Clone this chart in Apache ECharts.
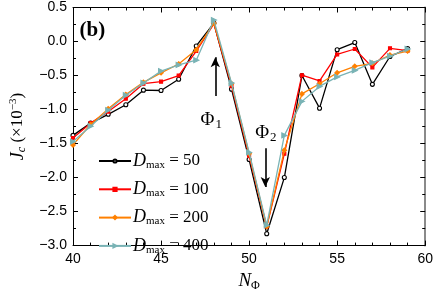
<!DOCTYPE html>
<html><head><meta charset="utf-8">
<script src="https://cdn.jsdelivr.net/npm/echarts@6/dist/echarts.min.js"></script>
<style>html,body{margin:0;padding:0;background:#fff}#c{width:436px;height:297px}</style>
</head><body><div id="c"></div>
<script>
const nPhi = [40,41,42,43,44,45,46,47,48,49,50,51,52,53,54,55,56,57,58,59];
const d50  = [-1.38,-1.20,-1.07,-0.93,-0.715,-0.72,-0.555,-0.065,0.27,-0.70,-1.735,-2.825,-2.00,-0.50,-0.98,-0.12,-0.015,-0.63,-0.22,-0.105];
const d100 = [-1.42,-1.20,-1.03,-0.84,-0.62,-0.59,-0.50,-0.14,0.26,-0.65,-1.68,-2.72,-1.65,-0.495,-0.58,-0.19,-0.11,-0.38,-0.10,-0.135];
const d200 = [-1.52,-1.22,-0.99,-0.78,-0.60,-0.46,-0.33,-0.12,0.27,-0.62,-1.65,-2.72,-1.60,-0.77,-0.62,-0.46,-0.365,-0.32,-0.20,-0.14];
const d400 = [-1.47,-1.245,-1.01,-0.79,-0.61,-0.435,-0.345,-0.275,0.315,-0.61,-1.63,-2.70,-1.38,-0.88,-0.66,-0.52,-0.425,-0.31,-0.215,-0.11];
const dmaxLabels = ['50','100','200','400'];
const xTicks = [40,45,50,55,60];
const yTicks = [0.5,0.0,-0.5,-1.0,-1.5,-2.0,-2.5,-3.0];

const serif = '"Liberation Serif","DejaVu Serif",serif';
const sans = '"Liberation Sans",Arial,sans-serif';
const colors = ['#000000','#ff0000','#ff8000','#79b3b5'];
const symbols = ['circle','rect','diamond','triangle'];
const symSizes = [4,3,4.5,5];
const symRot = [0,0,0,-90];
const datasets = [d50,d100,d200,d400];

const series = datasets.map((arr,i)=>({
  name: 'D' + dmaxLabels[i],
  type: 'line',
  data: nPhi.map((x,j)=>[x,arr[j]]),
  symbol: symbols[i],
  symbolSize: symSizes[i],
  symbolRotate: symRot[i],
  showAllSymbol: true,
  z: 2+i,
  lineStyle: {color: colors[i], width: 1.3},
  itemStyle: {color: i===0 ? '#ffffff' : colors[i], borderColor: colors[i], borderWidth: 1.1},
  emphasis: {disabled: true},
  animation: false
}));

series[0].markLine = {
  silent: true, animation: false,
  symbol: ['none','arrow'], symbolSize: [7,10],
  label: {show: false},
  lineStyle: {color: '#000', width: 1.6, type: 'solid'},
  data: [
    [{coord:[48.08,-0.80]},{coord:[48.08,-0.23]}],
    [{coord:[50.92,-1.57]},{coord:[50.92,-2.14]}]
  ]
};

const axisBase = {
  type: 'value', min: 40, max: 60, interval: 5,
  axisLine: {show: true, onZero: false, lineStyle: {color: '#000', width: 1}},
  axisTick: {show: true, inside: true, length: 5, lineStyle: {color: '#000'}},
  minorTick: {show: true, splitNumber: 5, length: 3, lineStyle: {color: '#000'}},
  splitLine: {show: false}
};
const yBase = {
  type: 'value', min: -3, max: 0.5, interval: 0.5,
  axisLine: {show: true, onZero: false, lineStyle: {color: '#000', width: 1}},
  axisTick: {show: true, inside: true, length: 5, lineStyle: {color: '#000'}},
  minorTick: {show: true, splitNumber: 2, length: 3, lineStyle: {color: '#000'}},
  splitLine: {show: false}
};

const legendRich = {
  d: {fontFamily: serif, fontStyle: 'italic', fontSize: 18, color: '#000'},
  m: {fontFamily: serif, fontSize: 11, color: '#000', padding: [8,0,0,0]},
  e: {fontFamily: serif, fontSize: 17, color: '#000'}
};
const legends = series.map((s,i)=>({
  orient: 'vertical', left: 93, top: 147 + 28.3*i,
  itemWidth: 32, itemHeight: 4,
  data: [s.name],
  formatter: name => '{d|D}{m|max}{e| = ' + name.slice(1) + '}',
  textStyle: {padding: [0,0,0,-3], rich: legendRich}
}));

const chart = echarts.init(document.getElementById('c'), null, {renderer: 'canvas'});
const option = {
  animation: false,
  backgroundColor: '#fff',
  grid: {left: 66, right: 9, top: 7.5, bottom: 40},
  xAxis: [
    Object.assign({}, axisBase, {
      position: 'bottom',
      axisLabel: {show: true, color: '#000', fontFamily: sans, fontSize: 14, margin: 7,
        formatter: v => xTicks.includes(v) ? String(v) : ''},
      name: '{n|N}{s|Φ}', nameLocation: 'middle', nameGap: 23,
      nameTextStyle: {rich: {
        n: {fontFamily: serif, fontStyle: 'italic', fontSize: 19, color: '#000'},
        s: {fontFamily: serif, fontSize: 12, color: '#000', padding: [10,0,0,0]}
      }}
    }),
    Object.assign({}, axisBase, {position: 'top', axisLabel: {show: false}})
  ],
  yAxis: [
    Object.assign({}, yBase, {
      position: 'left',
      axisLabel: {show: true, color: '#000', fontFamily: sans, fontSize: 14, margin: 6,
        formatter: v => { const t = yTicks.find(q => Math.abs(q - v) < 1e-9); return t === undefined ? '' : t.toFixed(1).replace('-', '−'); }},
      name: '{j|J}{c|c}{t| (×10}{e|−3}{t|)}', nameLocation: 'middle', nameGap: 45, nameRotate: 90,
      nameTextStyle: {rich: {
        j: {fontFamily: serif, fontStyle: 'italic', fontSize: 18, color: '#000'},
        c: {fontFamily: serif, fontStyle: 'italic', fontSize: 12, color: '#000', padding: [8,0,0,0]},
        t: {fontFamily: serif, fontSize: 17, color: '#000'},
        e: {fontFamily: serif, fontSize: 11, color: '#000', padding: [0,0,9,0]}
      }}
    }),
    Object.assign({}, yBase, {position: 'right', axisLabel: {show: false},
      axisLine: {show: true, onZero: false, lineStyle: {color: '#8a8a8a', width: 2}}})
  ],
  legend: legends,
  series: series
};
chart.setOption(option);

const p1 = chart.convertToPixel({xAxisIndex: 0, yAxisIndex: 0}, [47.85, -1.16]);
const p2 = chart.convertToPixel({xAxisIndex: 0, yAxisIndex: 0}, [50.95, -1.34]);
const pb = chart.convertToPixel({xAxisIndex: 0, yAxisIndex: 0}, [40.37, 0.16]);
function phi(p, sub) {
  return {
    type: 'text', x: p[0], y: p[1],
    style: {text: '{a|Φ}{b|' + sub + '}', align: 'center', verticalAlign: 'middle',
      rich: {a: {fontFamily: serif, fontSize: 19, fill: '#000'},
             b: {fontFamily: serif, fontSize: 13, fill: '#000', padding: [9,0,0,1]}}},
    z: 100
  };
}
chart.setOption({graphic: [
  phi(p1, '1'), phi(p2, '2'),
  {type: 'text', x: pb[0], y: pb[1], style: {text: '(b)', fontFamily: serif, fontWeight: 'bold', fontSize: 21, fill: '#000', align: 'left', verticalAlign: 'middle'}, z: 100}
]});
</script></body></html>
